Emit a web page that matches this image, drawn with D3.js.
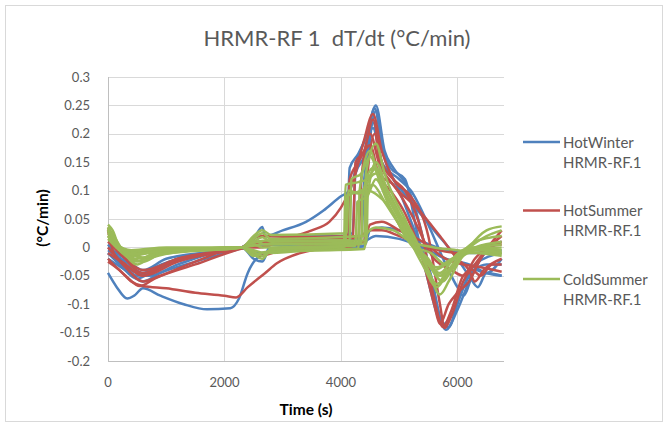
<!DOCTYPE html>
<html>
<head>
<meta charset="utf-8">
<script src="https://cdn.jsdelivr.net/npm/d3@7.9.0/dist/d3.min.js"></script>
<style>
  body { margin: 0; background: #fff; }
  svg { font-family: Lato, "Open Sans", sans-serif; }
</style>
</head>
<body>
<svg width="668" height="424"></svg>
<script>
// axis ticks
const xTicks = [0, 2000, 4000, 6000];
const yTicks = [0.3, 0.25, 0.2, 0.15, 0.1, 0.05, 0, -0.05, -0.1, -0.15, -0.2];

// series names
const seriesNames = ["HotWinter\nHRMR-RF.1", "HotSummer\nHRMR-RF.1", "ColdSummer\nHRMR-RF.1"];

// HotWinter runs: [time (s), dT/dt]
const hotWinter = [
  [[0,-0.045],[150,-0.07],[330,-0.09],[450,-0.085],[600,-0.072],[900,-0.085],[1300,-0.1],[1700,-0.109],[2100,-0.107],[2250,-0.09],[2400,-0.045],[2550,-0.02],[2800,-0.008],[3400,0],[4000,0.004],[4200,0.006],[4400,0.01],[4600,0.02],[5000,0.015],[5400,0],[5800,-0.02],[6200,-0.03],[6500,-0.045],[6760,-0.05]],
  [[0,-0.02],[300,-0.04],[600,-0.06],[900,-0.045],[1500,-0.025],[2000,-0.01],[2300,0],[2500,0.015],[2650,0.036],[2700,0.02],[3000,0.03],[3400,0.045],[3700,0.065],[4000,0.09],[4150,0.1],[4300,0.16],[4450,0.2],[4600,0.25],[4750,0.17],[4900,0.14],[5150,0.105],[5400,0.02],[5600,-0.08],[5800,-0.145],[6000,-0.11],[6200,-0.06],[6400,-0.02],[6760,0.01]],
  [[0,-0.01],[200,-0.03],[500,-0.055],[800,-0.04],[1500,-0.015],[2300,0],[2500,-0.02],[2650,-0.025],[2800,0.005],[3500,0.005],[4100,0.005],[4150,0.14],[4300,0.165],[4450,0.2],[4580,0.245],[4700,0.18],[4850,0.14],[5100,0.12],[5300,0.03],[5500,-0.06],[5700,-0.13],[5850,-0.14],[6000,-0.1],[6150,-0.06],[6300,-0.04],[6500,-0.045],[6760,-0.02]],
  [[0,0],[300,-0.02],[600,-0.04],[1000,-0.02],[2300,0],[2600,0.01],[3000,0.01],[4000,0.012],[4350,0.015],[4400,0.12],[4550,0.21],[4700,0.15],[5000,0.12],[5200,0.1],[5500,0.04],[5800,-0.03],[6000,-0.07],[6100,-0.085],[6300,-0.04],[6500,-0.03],[6760,-0.03]],
  [[0,-0.005],[300,-0.025],[600,-0.045],[1200,-0.02],[2300,0],[2600,0.02],[3000,0.02],[4000,0.02],[4200,0.025],[4250,0.13],[4400,0.16],[4550,0.22],[4700,0.15],[4900,0.12],[5200,0.08],[5600,0.03],[6000,-0.02],[6200,-0.05],[6350,-0.07],[6500,-0.045],[6760,-0.05]],
  [[0,-0.01],[400,-0.04],[700,-0.05],[1200,-0.03],[2300,-0.002],[2600,-0.01],[3000,-0.005],[4000,0],[4400,0.002],[4500,0.03],[4700,0.035],[5000,0.03],[5400,0.01],[5800,-0.005],[6200,-0.01],[6760,-0.005]],
  [[0,0.005],[200,-0.02],[500,-0.05],[800,-0.035],[1500,-0.012],[2300,0],[2600,0.005],[3500,0],[4400,0.002],[4450,0.13],[4600,0.24],[4750,0.16],[5000,0.1],[5300,0.02],[5550,-0.05],[5750,-0.135],[5900,-0.12],[6100,-0.07],[6300,-0.03],[6760,-0.01]]
];

// HotSummer runs
const hotSummer = [
  [[0,-0.025],[200,-0.04],[400,-0.06],[600,-0.068],[1000,-0.072],[1500,-0.08],[2000,-0.085],[2200,-0.088],[2400,-0.07],[2700,-0.045],[2900,-0.028],[3300,-0.01],[3800,0],[4100,0.002],[4300,0.005],[4400,0.01],[4500,0.04],[4700,0.045],[5000,0.03],[5400,0.01],[5800,-0.02],[6100,-0.03],[6400,-0.035],[6760,-0.043]],
  [[0,-0.02],[300,-0.05],[550,-0.068],[800,-0.055],[1500,-0.03],[2300,-0.002],[2600,0.005],[3000,0.015],[3500,0.03],[3800,0.045],[4000,0.07],[4150,0.1],[4250,0.13],[4400,0.19],[4550,0.235],[4700,0.17],[4900,0.12],[5200,0.09],[5500,0.02],[5700,-0.1],[5780,-0.142],[5900,-0.12],[6100,-0.06],[6300,-0.03],[6760,0.03]],
  [[0,0.03],[100,-0.01],[300,-0.03],[600,-0.05],[1000,-0.03],[1700,-0.01],[2300,0],[2600,-0.015],[3000,-0.005],[4000,0],[4200,0.002],[4250,0.15],[4400,0.17],[4550,0.225],[4700,0.15],[4900,0.12],[5100,0.1],[5400,0.02],[5600,-0.09],[5750,-0.14],[5900,-0.11],[6100,-0.05],[6250,-0.04],[6400,-0.05],[6600,-0.03],[6760,-0.03]],
  [[0,0.01],[300,-0.02],[600,-0.04],[1200,-0.02],[2300,0],[2600,0.02],[3200,0.018],[4300,0.02],[4350,0.12],[4500,0.2],[4650,0.15],[4900,0.11],[5300,0.07],[5700,0.02],[6000,-0.02],[6200,-0.04],[6300,-0.06],[6450,-0.04],[6760,-0.02]],
  [[0,0.035],[100,0.01],[300,-0.02],[600,-0.045],[1200,-0.02],[2300,0],[2600,0.01],[3500,0.005],[4400,0.008],[4450,0.12],[4580,0.2],[4700,0.12],[4850,0.1],[5100,0.06],[5400,-0.02],[5600,-0.1],[5700,-0.135],[5850,-0.1],[6000,-0.08],[6200,-0.06],[6400,-0.02],[6760,0.02]],
  [[0,0],[300,-0.035],[600,-0.06],[900,-0.05],[1500,-0.025],[2300,0],[2600,0],[3000,0.01],[4100,0.01],[4150,0.12],[4300,0.15],[4500,0.18],[4650,0.13],[4900,0.11],[5200,0.06],[5600,-0.02],[5900,-0.04],[6100,-0.05],[6300,-0.02],[6760,0.01]],
  [[0,-0.01],[300,-0.03],[600,-0.05],[1200,-0.025],[2300,0],[2650,0.01],[3500,0.015],[4300,0.018],[4500,0.03],[4700,0.03],[5000,0.02],[5500,0],[6000,-0.01],[6400,0],[6760,0.005]]
];

// ColdSummer runs
const coldSummer = [
  [[0,0.04],[80,0.03],[200,0],[400,-0.01],[600,-0.02],[900,-0.01],[2300,0],[2500,0.015],[2650,0.025],[2800,0.015],[4400,0.02],[4430,0.13],[4600,0.183],[4750,0.13],[4900,0.09],[5100,0.05],[5300,0],[5500,-0.04],[5700,-0.083],[5850,-0.06],[6000,-0.03],[6200,0],[6500,0.03],[6760,0.037]],
  [[0,0.035],[100,0.02],[250,-0.005],[500,-0.03],[700,-0.02],[1200,-0.008],[2300,0],[2500,-0.012],[2650,-0.02],[2800,-0.005],[4050,0],[4080,0.11],[4300,0.115],[4450,0.12],[4600,0.14],[4800,0.1],[5000,0.06],[5200,0.01],[5400,-0.03],[5650,-0.07],[5800,-0.05],[6000,-0.02],[6300,0.01],[6760,0.02]],
  [[0,0.03],[150,0],[400,-0.015],[700,-0.01],[1500,-0.004],[2300,0],[2500,0.008],[2700,0.012],[3500,0.012],[4150,0.013],[4180,0.12],[4350,0.13],[4500,0.16],[4700,0.11],[4900,0.07],[5200,0.02],[5500,-0.03],[5750,-0.06],[5900,-0.04],[6200,-0.005],[6760,0.005]],
  [[0,0.02],[200,-0.005],[500,-0.025],[800,-0.01],[2300,0],[2500,-0.005],[2700,-0.01],[3500,-0.005],[4300,-0.002],[4320,0.1],[4500,0.17],[4650,0.12],[4900,0.07],[5100,0.04],[5300,0],[5500,-0.02],[5700,-0.05],[5900,-0.035],[6200,-0.01],[6760,-0.01]],
  [[0,0.025],[150,0.005],[400,-0.01],[1000,-0.003],[2300,0],[2550,0.01],[2700,0.005],[4200,0.005],[4440,0.008],[4460,0.09],[4600,0.15],[4800,0.1],[5000,0.06],[5200,0.03],[5400,-0.01],[5600,-0.04],[5800,-0.03],[6200,0],[6760,-0.005]],
  [[0,0.03],[150,0],[350,-0.008],[800,-0.005],[2300,0],[2500,0.02],[2650,0.03],[2800,0.022],[4100,0.025],[4130,0.1],[4300,0.095],[4450,0.1],[4650,0.09],[4900,0.06],[5100,0.02],[5300,0],[5550,-0.01],[5800,-0.03],[6000,-0.015],[6300,0],[6760,0.01]],
  [[0,0.015],[200,-0.005],[500,-0.02],[1000,-0.005],[2300,0],[2500,-0.015],[2700,-0.008],[4400,-0.003],[4450,0.025],[4600,0.035],[4900,0.03],[5200,0.01],[5600,0],[6000,-0.005],[6760,-0.015]],
  [[0,0.035],[120,0.01],[300,-0.005],[600,-0.018],[1000,-0.005],[2300,0],[2500,0.005],[2650,0],[4250,0.003],[4280,0.08],[4450,0.09],[4600,0.12],[4800,0.08],[5000,0.04],[5200,0.005],[5450,-0.02],[5700,-0.05],[5850,-0.03],[6100,-0.005],[6760,0]],
  [[0,0.03],[150,0.005],[400,-0.005],[1000,0],[2300,0],[2500,0.01],[2650,0.018],[2800,0.01],[4420,0.012],[4440,0.11],[4600,0.13],[4800,0.09],[5000,0.05],[5200,0.01],[5400,-0.015],[5650,-0.035],[5900,-0.02],[6300,-0.005],[6760,-0.008]],
  [[0,0.02],[150,0],[400,-0.012],[800,-0.008],[2300,0],[2500,-0.008],[2650,-0.015],[2800,-0.003],[4080,0.002],[4100,0.09],[4350,0.1],[4550,0.11],[4750,0.08],[5000,0.04],[5250,0],[5500,-0.03],[5700,-0.045],[5900,-0.025],[6300,0],[6760,-0.012]],
  [[0,0.035],[100,0.015],[300,-0.01],[600,-0.025],[900,-0.012],[2300,0],[2500,0.003],[2700,0.006],[4350,0.008],[4370,0.09],[4550,0.14],[4750,0.1],[4950,0.06],[5150,0.02],[5400,-0.02],[5650,-0.065],[5800,-0.045],[6100,-0.01],[6500,0.02],[6760,0.03]]
];

const allSeries = [hotWinter, hotSummer, coldSummer];
const colors = ["#4F81BD", "#C0504D", "#9BBB59"];

const svg = d3.select("svg");
const plotLeft = 108, plotRight = 504, plotTop = 77, plotBottom = 361;

let x = d3.scaleLinear().domain([0, 6800]).range([plotLeft, plotRight]);
let y = d3.scaleLinear().domain([-0.2, 0.3]).range([plotBottom, plotTop]);

// chart border
svg.append("rect")
  .attr("x", 5.5).attr("y", 5.5).attr("width", 657).attr("height", 416)
  .attr("fill", "none").attr("stroke", "#D9D9D9");

// title
svg.append("text")
  .attr("x", 337).attr("y", 46)
  .attr("text-anchor", "middle")
  .attr("font-size", 22).attr("fill", "#595959")
  .style("white-space", "pre")
  .text("HRMR-RF 1  dT/dt (°C/min)");

// gridlines
svg.append("g").selectAll("line").data(yTicks).join("line")
  .attr("x1", plotLeft).attr("x2", plotRight)
  .attr("y1", d => Math.round(y(d)) + 0.5).attr("y2", d => Math.round(y(d)) + 0.5)
  .attr("stroke", "#D9D9D9");
svg.append("g").selectAll("line").data(xTicks.slice(1)).join("line")
  .attr("x1", d => Math.round(x(d)) + 0.5).attr("x2", d => Math.round(x(d)) + 0.5)
  .attr("y1", plotTop).attr("y2", plotBottom)
  .attr("stroke", "#D9D9D9");

// axis lines
svg.append("line")
  .attr("x1", plotLeft + 0.5).attr("x2", plotLeft + 0.5).attr("y1", plotTop).attr("y2", plotBottom + 0.5)
  .attr("stroke", "#BFBFBF");
svg.append("line")
  .attr("x1", plotLeft).attr("x2", plotRight).attr("y1", plotBottom + 0.5).attr("y2", plotBottom + 0.5)
  .attr("stroke", "#BFBFBF");

// tick labels
svg.append("g").selectAll("text").data(yTicks).join("text")
  .attr("x", 90).attr("y", d => y(d) + 4.5)
  .attr("text-anchor", "end")
  .attr("font-size", 13).attr("fill", "#595959")
  .text(d => d);
svg.append("g").selectAll("text").data(xTicks).join("text")
  .attr("x", d => x(d)).attr("y", plotBottom + 26)
  .attr("text-anchor", "middle")
  .attr("font-size", 13).attr("fill", "#595959")
  .text(d => d);

// axis titles
svg.append("text")
  .attr("x", 306).attr("y", 415)
  .attr("text-anchor", "middle")
  .attr("font-size", 15.5).attr("font-weight", "bold").attr("fill", "#000")
  .text("Time (s)");
svg.append("text")
  .attr("transform", "translate(48,218) rotate(-90)")
  .attr("text-anchor", "middle")
  .attr("font-size", 15.5).attr("font-weight", "bold").attr("fill", "#000")
  .text("(°C/min)");

// lines
let line = d3.line().x(d => x(d[0])).y(d => y(d[1])).curve(d3.curveMonotoneX);
allSeries.forEach((runs, i) => {
  svg.append("g").selectAll("path").data(runs).join("path")
    .attr("d", line)
    .attr("fill", "none")
    .attr("stroke", colors[i])
    .attr("stroke-width", 2.5)
    .attr("stroke-linejoin", "round");
});

// legend
seriesNames.forEach((name, i) => {
  let ly = 142 + i * 68.5;
  svg.append("line")
    .attr("x1", 523).attr("x2", 560).attr("y1", ly).attr("y2", ly)
    .attr("stroke", colors[i]).attr("stroke-width", 2.5);
  let t = svg.append("text")
    .attr("x", 563).attr("y", ly + 5.5)
    .attr("font-size", 15).attr("fill", "#595959");
  name.split("\n").forEach((part, j) => {
    t.append("tspan").attr("x", 563).attr("dy", j === 0 ? 0 : 20).text(part);
  });
});
</script>
</body>
</html>
